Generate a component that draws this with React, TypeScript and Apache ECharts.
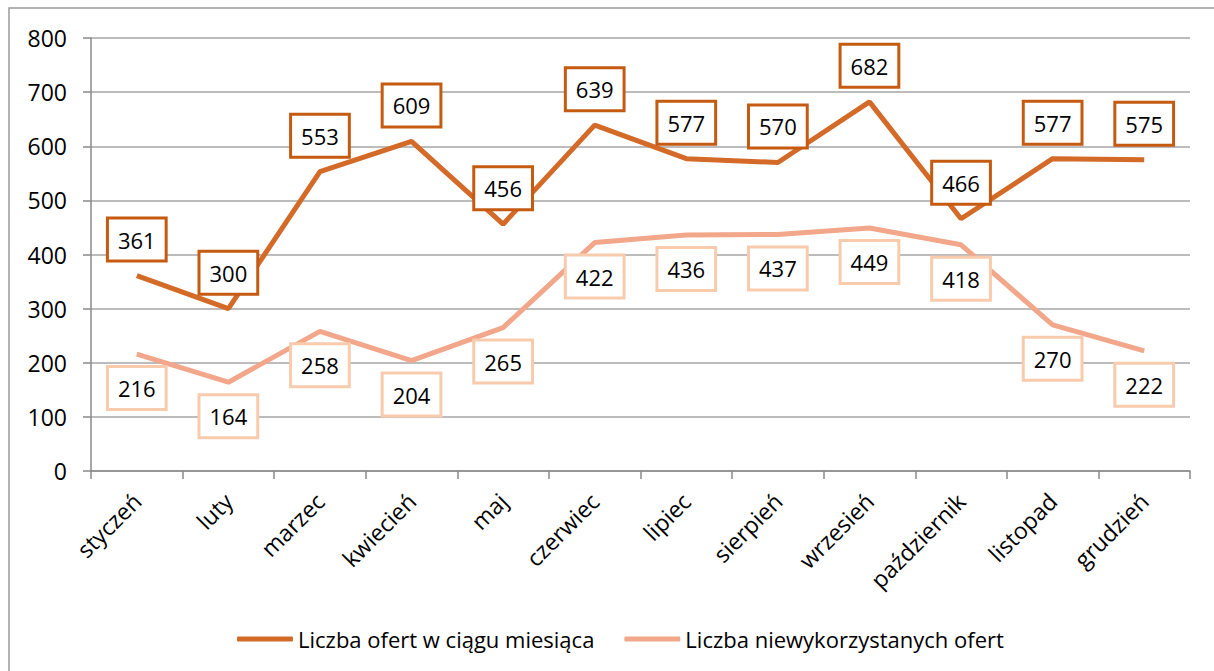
import React, { useEffect, useRef } from "react";
import * as echarts from "echarts";

const categories = [
  "styczeń", "luty", "marzec", "kwiecień", "maj", "czerwiec",
  "lipiec", "sierpień", "wrzesień", "październik", "listopad", "grudzień",
];
const offersTotal = [361, 300, 553, 609, 456, 639, 577, 570, 682, 466, 577, 575];
const offersUnused = [216, 164, 258, 204, 265, 422, 436, 437, 449, 418, 270, 222];
const seriesNames = ["Liczba ofert w ciągu miesiąca", "Liczba niewykorzystanych ofert"];

const FONT = "'Open Sans', Carlito, Lato, sans-serif";

export default function App() {
  const ref = useRef<HTMLDivElement>(null);
  useEffect(() => {
    if (!ref.current) return;
    const chart = echarts.init(ref.current, undefined, { renderer: "svg" });
    const labelBase = {
      show: true,
      color: "#000",
      fontSize: 22,
      fontFamily: FONT,
      backgroundColor: "#fff",
      borderWidth: 3,
      padding: [7, 9, 7, 9],
      lineHeight: 26,
    };
    chart.setOption({
      animation: false,
      backgroundColor: "#fff",
      textStyle: { fontFamily: FONT },
      graphic: [
        {
          type: "rect",
          shape: { x: 9, y: 8, width: 1300, height: 800 },
          style: { fill: "none", stroke: "#9a9a9a", lineWidth: 1.5 },
          silent: true,
        },
      ],
      grid: { left: 91, right: 24, top: 38, bottom: 200 },
      xAxis: {
        type: "category",
        data: categories,
        boundaryGap: true,
        axisLine: { lineStyle: { color: "#8a8a8a", width: 1.5 } },
        axisTick: { show: true, length: 8, lineStyle: { color: "#8a8a8a", width: 1.5 } },
        axisLabel: {
          rotate: 45,
          fontSize: 23,
          color: "#000",
          fontFamily: FONT,
          margin: 26,
          interval: 0,
        },
      },
      yAxis: {
        type: "value",
        min: 0,
        max: 800,
        interval: 100,
        axisLine: { show: true, lineStyle: { color: "#8a8a8a", width: 1.5 } },
        axisTick: { show: true, length: 8, lineStyle: { color: "#8a8a8a", width: 1.5 } },
        splitLine: { lineStyle: { color: "#a6a6a6", width: 1.5 } },
        axisLabel: { fontSize: 23, color: "#000", fontFamily: FONT, margin: 24 },
      },
      legend: {
        left: 232,
        top: 623,
        icon: "roundRect",
        itemWidth: 56,
        itemHeight: 5,
        itemGap: 30,
        textStyle: { fontSize: 22, color: "#000", fontFamily: FONT },
        data: seriesNames,
      },
      series: [
        {
          name: seriesNames[1],
          type: "line",
          data: offersUnused,
          symbol: "circle",
          symbolSize: 0,
          showSymbol: true,
          lineStyle: { color: "#F2A68A", width: 5 },
          itemStyle: { color: "#F2A68A" },
          label: { ...labelBase, position: "bottom", distance: 14, borderColor: "#F9CBAD" },
          z: 2,
        },
        {
          name: seriesNames[0],
          type: "line",
          data: offersTotal,
          symbol: "circle",
          symbolSize: 0,
          showSymbol: true,
          lineStyle: { color: "#D46A28", width: 5 },
          itemStyle: { color: "#D46A28" },
          label: { ...labelBase, position: "top", distance: 16, borderColor: "#C55A11" },
          z: 3,
        },
      ],
    });
    return () => chart.dispose();
  }, []);
  return (
    <div
      ref={ref}
      style={{ position: "fixed", left: 0, top: 0, width: 1214, height: 671 }}
    />
  );
}
